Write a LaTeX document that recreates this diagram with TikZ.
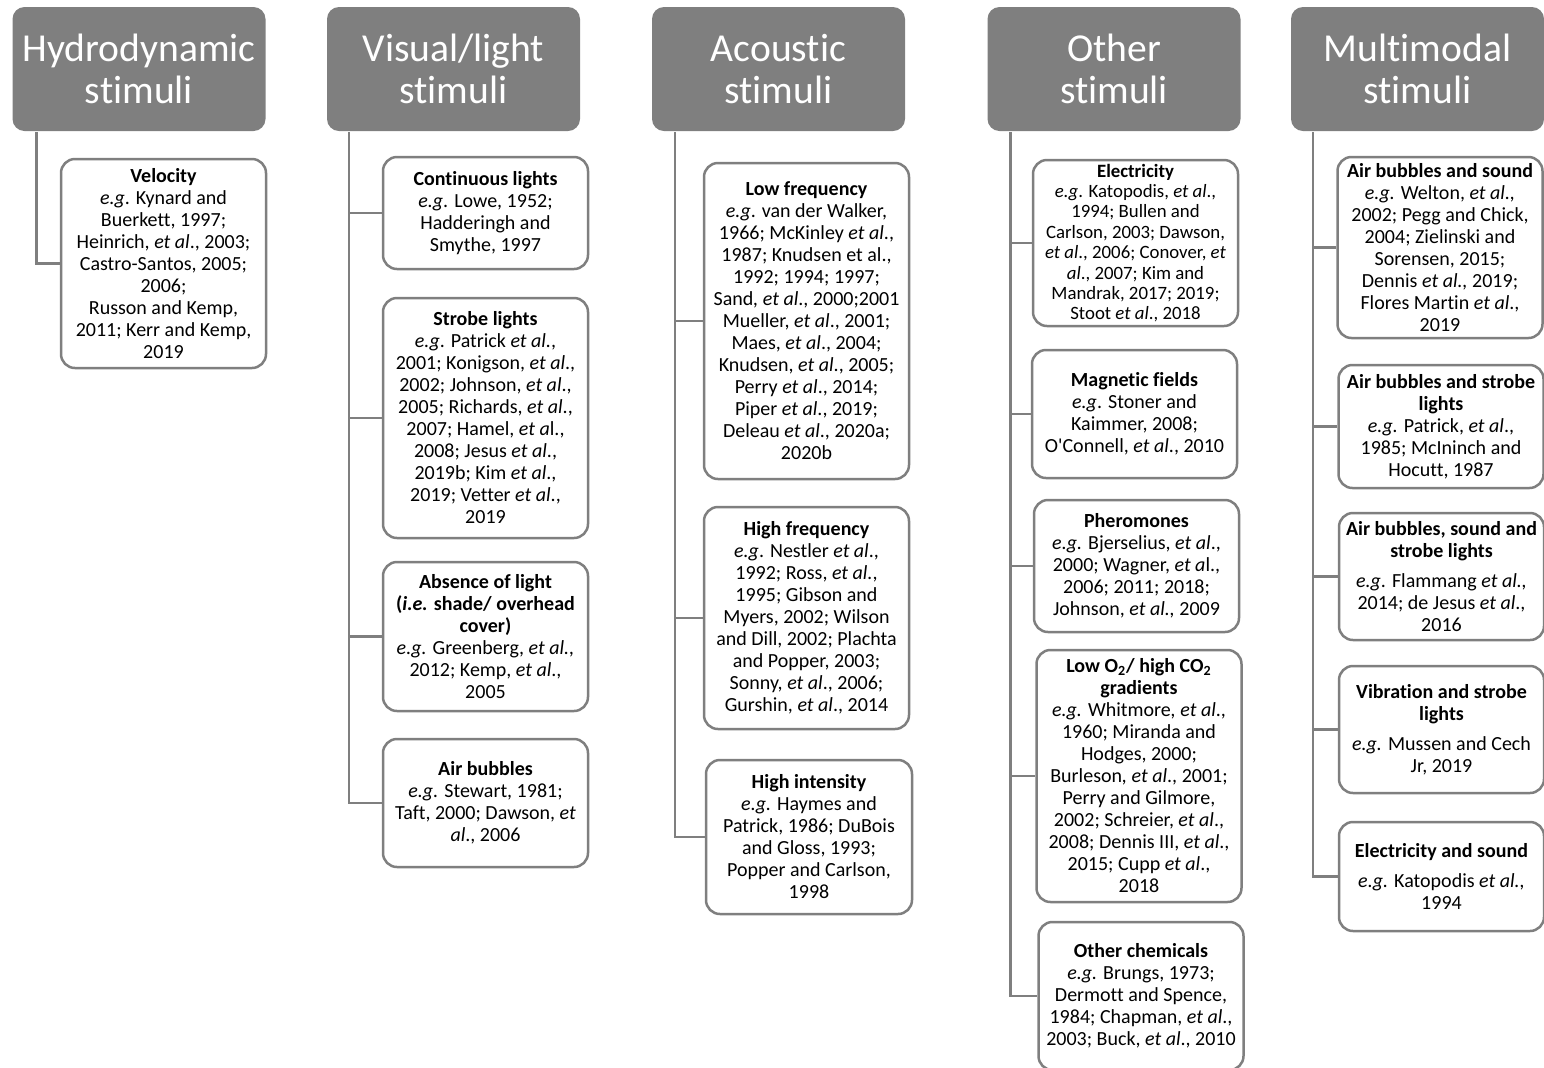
\documentclass[tikz,border=0pt]{standalone}
\usepackage{fontspec}
\setmainfont[Ligatures={TeX,CommonOff}]{Carlito}
\definecolor{boxgray}{RGB}{127,127,127}
\tikzset{every picture/.style={line width=1.25pt}}
\tikzset{
  head/.style={fill=boxgray, draw=none, rounded corners=6pt, text=white, align=center,
    minimum width=126.5pt, minimum height=62pt, inner sep=0pt, font=\fontsize{19.8}{21}\selectfont},
  leaf/.style={draw=boxgray, fill=white, rounded corners=7pt, align=center,
    minimum width=102.5pt, inner sep=1pt, font=\fontsize{10}{11}\selectfont},
  link/.style={draw=boxgray, line width=1.25pt},
}

\begin{document}
\begin{tikzpicture}[x=0.5pt,y=0.5pt,yscale=-1,xscale=1]
\useasboundingbox (0,0) rectangle (1544,1067); %set diagram to the size of the figure

%Shape: Header Boxes
\node[head] (hydro) at (139,69) {Hydrodynamic\\stimuli};
\node[head] (visual) at (453.5,69) {Visual/light\\stimuli};
\node[head] (acoustic) at (778.5,69) {Acoustic\\stimuli};
\node[head] (other) at (1114,69) {Other\\stimuli};
\node[head] (multi) at (1417.5,69) {Multimodal\\stimuli};

%Shape: Rounded Rectangle -- hydrodynamic
\node[leaf, minimum height=104.5pt] (velocity) at (163.5,263.5) {\textbf{Velocity}\\ \textit{e.g}. Kynard and\\ Buerkett, 1997;\\ Heinrich, \textit{et al}., 2003;\\ Castro-Santos, 2005;\\ 2006;\\ Russon and Kemp,\\ 2011; Kerr and Kemp,\\ 2019};

%Shape: Rounded Rectangle -- visual/light
\node[leaf, minimum height=56pt] (contlight) at (485.5,213) {\textbf{Continuous lights}\\ \textit{e.g}. Lowe, 1952;\\ Hadderingh and\\ Smythe, 1997};
\node[leaf, minimum height=120pt] (strobe) at (485.5,418) {\textbf{Strobe lights}\\ \textit{e.g}. Patrick \textit{et al.},\\ 2001; Konigson, \textit{et al}.,\\ 2002; Johnson, \textit{et al}.,\\ 2005; Richards, \textit{et al}.,\\ 2007; Hamel, \textit{et a}l.,\\ 2008; Jesus \textit{et al}.,\\ 2019b; Kim \textit{et al}.,\\ 2019; Vetter \textit{et al}.,\\ 2019};
\node[leaf, minimum height=74.5pt] (nolight) at (485.5,636.5) {\textbf{Absence of light}\\ \textbf{(\textit{i.e.} shade/ overhead}\\ \textbf{cover)}\\ \textit{e.g.} Greenberg, \textit{et al.,}\\ 2012; Kemp, \textit{et al}.,\\ 2005};
\node[leaf, minimum height=64pt] (bubbles) at (485.5,803) {\textbf{Air bubbles}\\ \textit{e.g.} Stewart, 1981;\\ Taft, 2000; Dawson, \textit{et}\\ \textit{al}., 2006};

%Shape: Rounded Rectangle -- acoustic
\node[leaf, minimum height=158pt] (lowfreq) at (806.5,321) {\textbf{Low frequency}\\ \textit{e.g}. van der Walker,\\ 1966; McKinley \textit{et al}.,\\ 1987; Knudsen et al.,\\ 1992; 1994; 1997;\\ Sand\textit{, et al}., 2000;2001\\ Mueller, \textit{et al}., 2001;\\ Maes, \textit{et al}., 2004;\\ Knudsen, \textit{et al}., 2005;\\ Perry \textit{et al}., 2014;\\ Piper \textit{et al}., 2019;\\ Deleau \textit{et al}., 2020a;\\ 2020b};
\node[leaf, minimum height=111pt] (highfreq) at (806.5,618) {\textbf{High frequency}\\ \textit{e.g}. Nestler \textit{et al}.,\\ 1992; Ross, \textit{et al.},\\ 1995; Gibson and\\ Myers, 2002; Wilson\\ and Dill, 2002; Plachta\\ and Popper, 2003;\\ Sonny, \textit{et al}., 2006;\\ Gurshin, \textit{et al}., 2014};
\node[leaf, minimum height=77pt, minimum width=103pt] (highint) at (809,837) {\textbf{High intensity}\\ \textit{e.g.} Haymes and\\ Patrick, 1986; DuBois\\ and Gloss, 1993;\\ Popper and Carlson,\\ 1998};

%Shape: Rounded Rectangle -- other
\node[leaf, minimum height=83pt, font=\fontsize{9.4}{10.2}\selectfont] (electric) at (1135.5,243) {\textbf{Electricity}\\ \textit{e.g}. Katopodis, \textit{et al}.,\\ 1994; Bullen and\\ Carlson, 2003; Dawson,\\ \textit{et al}., 2006; Conover, \textit{et}\\ \textit{al}., 2007; Kim and\\ Mandrak, 2017; 2019;\\ Stoot \textit{et al}., 2018};
\node[leaf, minimum height=64pt] (magnet) at (1134.5,414) {\textbf{Magnetic fields}\\ \textit{e.g}. Stoner and\\ Kaimmer, 2008;\\ O\textquotesingle Connell, \textit{et al}., 2010};
\node[leaf, minimum height=66pt] (phero) at (1136.5,566) {\textbf{Pheromones}\\ \textit{e.g.} Bjerselius, \textit{et al}.,\\ 2000; Wagner, \textit{et a}l.,\\ 2006; 2011; 2018;\\ Johnson, \textit{et al.,} 2009};
\node[leaf, minimum height=126pt] (gases) at (1139,776) {\textbf{Low O\textsubscript{2}/ high CO\textsubscript{2}}\\ \textbf{gradients}\\ \textit{e.g.} Whitmore\textit{, et al}.,\\ 1960; Miranda and\\ Hodges, 2000;\\ Burleson\textit{, et al}., 2001;\\ Perry and Gilmore,\\ 2002; Schreier, \textit{et al}.,\\ 2008; Dennis III, \textit{et al}.,\\ 2015; Cupp \textit{et al}.,\\ 2018};
\node[leaf, minimum height=74pt] (chemicals) at (1141,996) {\textbf{Other chemicals}\\ \textit{e.g.} Brungs, 1973;\\ Dermott and Spence,\\ 1984; Chapman, \textit{et al}.,\\ 2003; Buck, \textit{et al}., 2010};

%Shape: Rounded Rectangle -- multimodal
\node[leaf, minimum height=90.5pt] (bubsound) at (1440,247.5) {\textbf{Air bubbles and sound}\\ \textit{e.g.} Welton, \textit{et al.,}\\ 2002; Pegg and Chick,\\ 2004; Zielinski and\\ Sorensen, 2015;\\ Dennis \textit{et al.,} 2019;\\ Flores Martin \textit{et al}.,\\ 2019};
\node[leaf, minimum height=61.5pt] (bubstrobe) at (1441,426.5) {\textbf{Air bubbles and strobe}\\ \textbf{lights}\\ \textit{e.g.} Patrick, \textit{et al}.,\\ 1985; McIninch and\\ Hocutt, 1987};
\node[leaf, minimum height=63.5pt] (bubsoundstrobe) at (1441.5,576.5) {\textbf{Air bubbles, sound and}\\ \textbf{strobe lights}\\[4pt] \textit{e.g}. Flammang \textit{et al.,}\\ 2014; de Jesus \textit{et al}.,\\ 2016};
\node[leaf, minimum height=63.5pt] (vibstrobe) at (1441.5,729.5) {\textbf{Vibration and strobe}\\ \textbf{lights}\\[4pt] \textit{e.g.} Mussen and Cech\\ Jr, 2019};
\node[leaf, minimum height=54.5pt] (elecsound) at (1441.5,876.5) {\textbf{Electricity and sound}\\[4pt] \textit{e.g.} Katopodis \textit{et al.,}\\ 1994};

%Straight Lines
\draw[link] ([xshift=12.5pt]hydro.south west) |- (velocity.west);
\foreach \leafname in {contlight,strobe,nolight,bubbles}
  \draw[link] ([xshift=11.5pt]visual.south west) |- (\leafname.west);
\foreach \leafname in {lowfreq,highfreq,highint}
  \draw[link] ([xshift=12pt]acoustic.south west) |- (\leafname.west);
\foreach \leafname in {electric,magnet,phero,gases,chemicals}
  \draw[link] ([xshift=12pt]other.south west) |- (\leafname.west);
\foreach \leafname in {bubsound,bubstrobe,bubsoundstrobe,vibstrobe,elecsound}
  \draw[link] ([xshift=11.5pt]multi.south west) |- (\leafname.west);

\end{tikzpicture}
\end{document}
